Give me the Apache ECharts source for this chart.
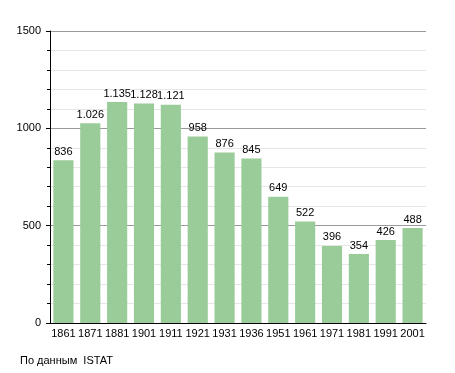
<!DOCTYPE html>
<html><head><meta charset="utf-8">
<script src="https://cdn.jsdelivr.net/npm/echarts@6/dist/echarts.min.js"></script>
<style>html,body{margin:0;padding:0;background:#fff}#c{width:455px;height:373px}</style>
</head><body><div id="c"></div>
<script>
const years = ['1861','1871','1881','1901','1911','1921','1931','1936','1951','1961','1971','1981','1991','2001'];
const population = [836,1026,1135,1128,1121,958,876,845,649,522,396,354,426,488];
const yTicks = [0,500,1000,1500];
const sourceText = 'По данным  ISTAT';

function fmt(v){ return v>=1000 ? Math.floor(v/1000)+'.'+String(v%1000).padStart(3,'0') : String(v); }

const chart = echarts.init(document.getElementById('c'), null, {renderer:'canvas'});
chart.setOption({
  animation:false,
  backgroundColor:'#fff',
  textStyle:{fontFamily:'Liberation Sans, Arial, sans-serif'},
  grid:{left:50,top:31,right:29,bottom:50,containLabel:false},
  graphic:[{type:'text',left:20,top:355,style:{text:sourceText,fontSize:11,fill:'#000',fontFamily:'Liberation Sans, Arial, sans-serif'}}],
  xAxis:{type:'category',data:years,
    axisLine:{lineStyle:{color:'#000',width:1}},
    axisTick:{show:false},
    axisLabel:{color:'#000',fontSize:11,margin:5,interval:0}},
  yAxis:{type:'value',min:yTicks[0],max:yTicks[yTicks.length-1],interval:500,
    axisLine:{show:true,lineStyle:{color:'#000'}},
    axisTick:{show:true,length:4,lineStyle:{color:'#000'}},
    minorTick:{show:true,splitNumber:5,length:3,lineStyle:{color:'#000'}},
    splitLine:{lineStyle:{color:'#999',width:1}},
    minorSplitLine:{show:true,lineStyle:{color:'#e6e6e6',width:1}},
    axisLabel:{color:'#000',fontSize:11,margin:9,formatter:v=>String(v)}},
  series:[{type:'bar',data:population,barCategoryGap:'25%',
    itemStyle:{color:'#99cc99'},
    label:{show:true,position:'top',color:'#000',fontSize:11,distance:3,formatter:p=>fmt(p.value)}}]
});
</script></body></html>
